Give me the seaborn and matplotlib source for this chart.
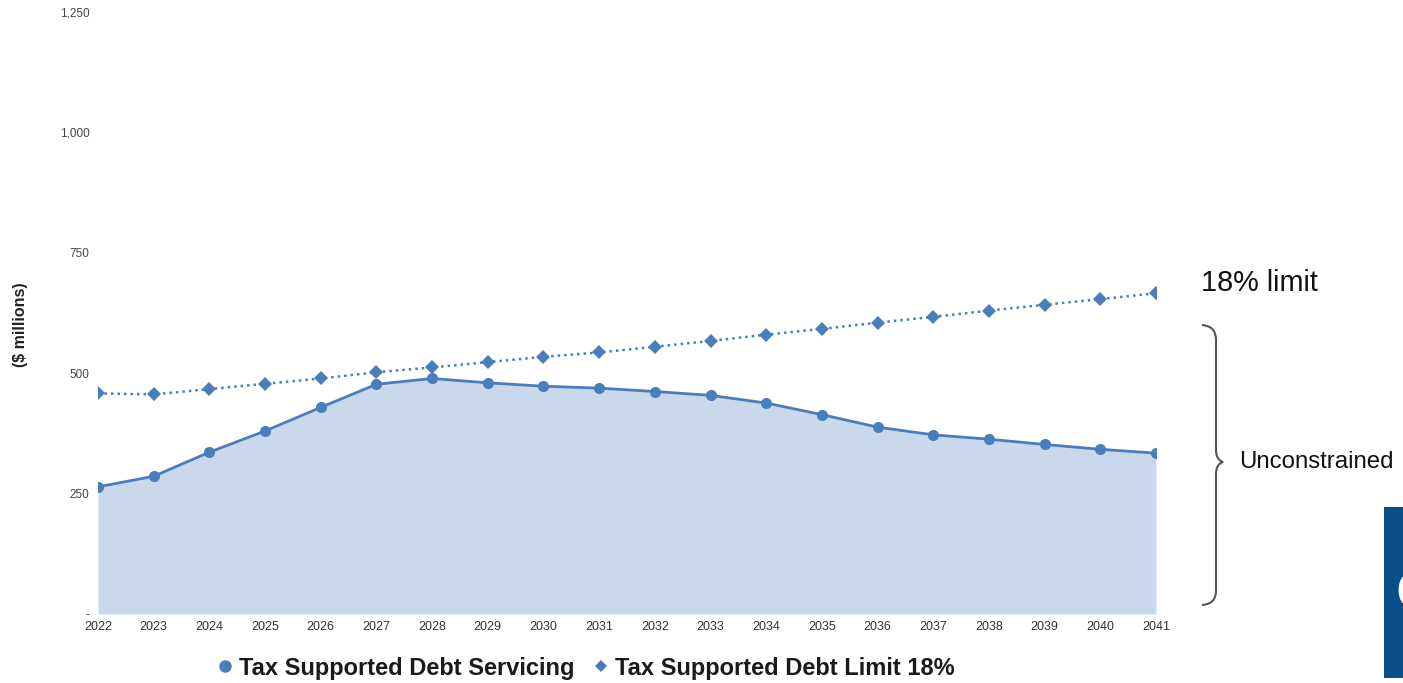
import numpy as np
import pandas as pd
import matplotlib
matplotlib.use("Agg")
import matplotlib.pyplot as plt
from matplotlib.path import Path
from matplotlib.patches import PathPatch, Rectangle, Arc
from matplotlib.lines import Line2D
import seaborn as sns

# data ($ millions)
years = list(range(2022, 2042))
servicing = [264, 286, 336, 380, 429, 477, 489, 480, 473, 469,
             462, 454, 438, 414, 388, 372, 363, 352, 342, 334]
limit_18 = [458, 456, 467, 478, 489, 502, 512, 523, 534, 543,
            555, 567, 580, 592, 605, 617, 630, 642, 654, 666]
y_ticks = [0, 250, 500, 750, 1000, 1250]
y_tick_labels = ["-", "250", "500", "750", "1,000", "1,250"]

df = pd.DataFrame({"year": years, "servicing": servicing, "limit": limit_18})

line_blue = "#4a7ebb"
fill_blue = "#c9d8eb"

sns.set_style("white")
plt.rcParams["font.family"] = ["Liberation Sans", "DejaVu Sans"]

W, H = 1403, 683
fig = plt.figure(figsize=(W / 100, H / 100), dpi=100)
ax = fig.add_axes([98 / W, 1 - 614 / H, (1156 - 98) / W, (614 - 12) / H])

ax.fill_between(df["year"], 0, df["servicing"], color=fill_blue, lw=0, zorder=1)
sns.lineplot(data=df, x="year", y="servicing", ax=ax, color=line_blue, lw=2,
             marker="o", markersize=8, markeredgewidth=0, zorder=3)
sns.lineplot(data=df, x="year", y="limit", ax=ax, color=line_blue, lw=1.8,
             linestyle=(0, (1, 1.6)), marker="D", markersize=7,
             markeredgewidth=0, zorder=3)

ax.set_xlim(2022, 2041)
ax.set_ylim(0, 1250)
ax.set_xticks(years)
ax.set_xticklabels([str(y) for y in years], fontsize=9, color="#333333")
ax.set_yticks(y_ticks)
ax.set_yticklabels(y_tick_labels, fontsize=8.5, color="#444444")
ax.tick_params(length=0, pad=6)
ax.tick_params(axis="x", pad=5)
ax.set_xlabel("")
ax.set_ylabel("")
sns.despine(ax=ax, left=True, bottom=True)

fig.text(21 / W, 1 - 325 / H, "($ millions)", rotation=90, fontsize=11.5,
         fontweight="bold", color="#222222", ha="center", va="center")

# legend at the bottom
handles = [
    Line2D([], [], ls="", marker="o", color=line_blue, markersize=9, markeredgewidth=0),
    Line2D([], [], ls="", marker="D", color=line_blue, markersize=6.5, markeredgewidth=0),
]
fig.legend(handles, ["Tax Supported Debt Servicing", "Tax Supported Debt Limit 18%"],
           loc="center", bbox_to_anchor=(584 / W, 1 - 668 / H), ncol=2,
           frameon=False, handletextpad=0.1, columnspacing=0.6, handlelength=1.0,
           prop={"weight": "bold", "size": 17}, labelcolor="#1a1a1a")

# annotations on the right
fig.text(1201 / W, 1 - 283 / H, "18% limit", fontsize=20.8, color="#111111",
         ha="left", va="center")
fig.text(1239 / W, 1 - 462 / H, "Unconstrained", fontsize=17.3, color="#111111",
         ha="left", va="center")


def px(x, y):
    return (x / W, 1 - y / H)


verts = [px(1202, 325), px(1216, 326), px(1216, 340),
         px(1216, 450),
         px(1216, 460), px(1223, 462),
         px(1216, 464), px(1216, 474),
         px(1216, 591),
         px(1216, 604), px(1202, 605)]
codes = [Path.MOVETO, Path.CURVE3, Path.CURVE3,
         Path.LINETO,
         Path.CURVE3, Path.CURVE3,
         Path.CURVE3, Path.CURVE3,
         Path.LINETO,
         Path.CURVE3, Path.CURVE3]
fig.add_artist(PathPatch(Path(verts, codes), transform=fig.transFigure,
                         fill=False, edgecolor="#555555", lw=1.5))

# cropped dark blue box at the lower right edge, with a cut-off white glyph
fig.add_artist(Rectangle(px(1384, 678), 19 / W, (678 - 507) / H,
                         transform=fig.transFigure, color="#0b4f8a", lw=0))
fig.add_artist(Arc(px(1409, 590), 16 / W, 28 / H, theta1=100, theta2=260,
                   transform=fig.transFigure, color="white", lw=3.5))

fig.savefig("out.png", dpi=100)
